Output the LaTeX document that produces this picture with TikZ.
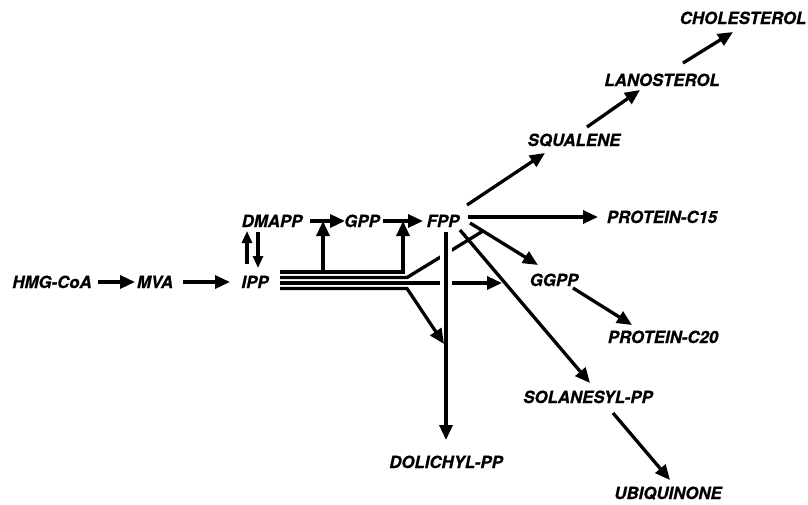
\documentclass[tikz,border=0pt]{standalone}
\usepackage{fontspec}
\newfontfamily\metabfont{TeX Gyre Heros}[BoldItalicFeatures={FakeBold=0.6}]
\usetikzlibrary{arrows.meta,calc}
\tikzset{
  metab/.style={font=\metabfont\fontsize{16.8}{18}\selectfont\bfseries\itshape,inner sep=0pt,text height=12pt,text depth=0pt},
  rxn/.style={-{Triangle[length=15pt,width=13pt]},line width=3.3pt},
  isom/.style={-{Triangle[length=12pt,width=10pt]},line width=3.2pt},
  feed/.style={line width=3.3pt},
  halo/.style={draw=white,line width=12pt}
}
\begin{document}
\begin{tikzpicture}[x=1pt,y=-1pt]
  \useasboundingbox (0,0) rectangle (808,504);
  % metabolites
  \node[metab] (hmg) at (52,282) {HMG-CoA};
  \node[metab] (mva) at (155,282) {MVA};
  \node[metab] (ipp) at (255,282) {IPP};
  \node[metab] (dmapp) at (272,221) {DMAPP};
  \node[metab] (gpp) at (362,221) {GPP};
  \node[metab] (fpp) at (443,221) {FPP};
  \node[metab] (squalene) at (574,140) {SQUALENE};
  \node[metab] (lanosterol) at (662,80) {LANOSTEROL};
  \node[metab] (cholesterol) at (743,18) {CHOLESTEROL};
  \node[metab] (protc15) at (662,217) {PROTEIN-C15};
  \node[metab] (ggpp) at (554,280) {GGPP};
  \node[metab] (protc20) at (663,337) {PROTEIN-C20};
  \node[metab] (solanesyl) at (588,397) {SOLANESYL-PP};
  \node[metab] (dolichyl) at (446,462) {DOLICHYL-PP};
  \node[metab] (ubiquinone) at (668,493) {UBIQUINONE};
  % mevalonate chain
  \draw[rxn] ([shift={(46,0)}]hmg.center) -- ([shift={(-20,0)}]mva.center);
  \draw[rxn] ([shift={(28,0)}]mva.center) -- ([shift={(-25,0)}]ipp.center);
  \draw[isom] ([shift={(-8,-18)}]ipp.center) -- ([shift={(-25,10)}]dmapp.center);
  \draw[isom] ([shift={(-14,11)}]dmapp.center) -- ([shift={(3,-14)}]ipp.center);
  \draw[rxn] ([shift={(38,0)}]dmapp.center) -- ([shift={(-17,0)}]gpp.center);
  \draw[rxn] ([shift={(21,0)}]gpp.center) -- ([shift={(-20,0)}]fpp.center);
  % branches from FPP
  \draw[rxn] ([shift={(24,-16)}]fpp.center) -- ([shift={(-29,13)}]squalene.center);
  \draw[rxn] ([shift={(13,-13)}]squalene.center) -- ([shift={(-22,10)}]lanosterol.center);
  \draw[rxn] ([shift={(21,-17)}]lanosterol.center) -- ([shift={(-10,14)}]cholesterol.center);
  \draw[rxn] ([shift={(25,-4)}]fpp.center) -- ([shift={(-64,0)}]protc15.center);
  \draw[rxn] ([shift={(27,2)}]fpp.center) -- ([shift={(-16,-15)}]ggpp.center);
  \draw[rxn] ([shift={(19,8)}]ggpp.center) -- ([shift={(-31,-12)}]protc20.center);
  \draw[rxn] ([shift={(17,9)}]fpp.center) -- ([shift={(2,-14)}]solanesyl.center);
  \draw[rxn] ([shift={(25,16)}]solanesyl.center) -- ([shift={(2,-13)}]ubiquinone.center);
  % IPP bundle
  \foreach \k/\yy in {1/272,2/277.5,3/283,4/288.5}
    \coordinate (in\k) at (280,\yy);
  \coordinate (up1) at (323,272);
  \coordinate (up2) at (403,272);
  \coordinate (kink2) at (407,277.5);
  \coordinate (merge) at (483,231);
  \coordinate (kink4) at (407,288.5);
  \coordinate (tip3) at (502,283);
  \coordinate (tip4) at (444,344);
  \draw[feed] (in2) -- (kink2) -- (merge);
  \draw[rxn] (in3) -- (tip3);
  \draw[halo,shorten >=60pt] ([shift={(3,11)}]fpp.center) -- ([shift={(0,-22)}]dolichyl.center);
  \draw[rxn] ([shift={(3,11)}]fpp.center) -- ([shift={(0,-22)}]dolichyl.center);
  \draw[rxn] (in4) -- (kink4) -- (tip4);
  \draw[rxn] (in1) -- (up2) -- (up2 |- gpp);
  \draw[rxn] (up1) -- (up1 |- dmapp);
\end{tikzpicture}
\end{document}
